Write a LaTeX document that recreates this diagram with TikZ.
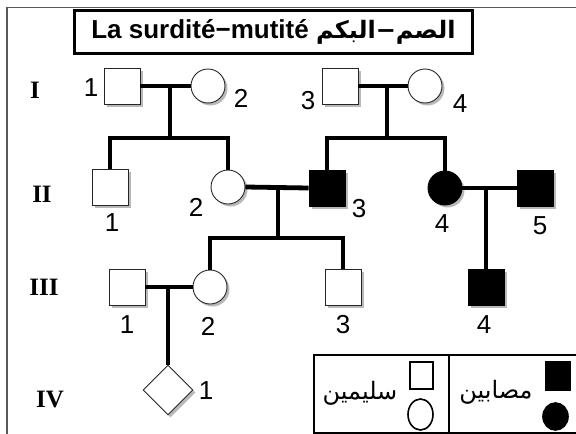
\documentclass[tikz,border=0pt]{standalone}
\usepackage{fontspec}
\setmainfont{Liberation Sans}
\newfontfamily\arabicfont[Script=Arabic]{DejaVu Sans}
\newfontfamily\romanfont{Liberation Serif}
\TeXXeTstate=1
\usetikzlibrary{shapes.geometric,shadows}

\tikzset{
  person/.style={draw=black!85, line width=0.9pt, fill=white, inner sep=0pt,
    drop shadow={shadow xshift=2.5pt, shadow yshift=-2.5pt, fill=black!50, opacity=0.55}},
  male/.style={person, rectangle, minimum size=36pt},
  female/.style={person, circle, minimum size=34pt},
  unknown/.style={person, diamond, minimum size=50pt},
  affected/.style={fill=black, draw=black},
  link/.style={line width=4.8pt, line join=miter},
  idlabel/.style={font=\fontsize{26}{26}\selectfont, inner sep=0pt},
  genlabel/.style={font=\romanfont\bfseries\fontsize{25}{25}\selectfont, inner sep=0pt},
  titlebox/.style={draw=black, line width=3pt, minimum width=398pt, minimum height=43pt, inner sep=0pt},
  keybox/.style={draw=black, line width=1.6pt, inner sep=0pt},
  keytext/.style={font=\arabicfont\fontsize{24}{24}\selectfont, inner sep=0pt},
  frame/.style={draw=black!65, line width=1.3pt}
}

\begin{document}
\begin{tikzpicture}[x=1pt, y=-1pt]
\useasboundingbox (0,0) rectangle (576,434);

% outer frame (top and left edges)
\draw[frame] (7,434) -- (7,7.5) -- (580,7.5);

% heading
\node[titlebox] (title) at (273.5,32) {%
  \fontsize{26}{26}\selectfont\bfseries La surdité−mutité
  {\arabicfont\bfseries\fontsize{24}{24}\selectfont\beginR الصم−البكم\endR}};

% generation numerals
\node[genlabel] (gI)   at (35,90)  {I};
\node[genlabel] (gII)  at (42,194) {II};
\node[genlabel] (gIII) at (44,287) {III};
\node[genlabel] (gIV)  at (50,399) {IV};

% generation I
\node[male]   (I1) at (122,86) {};
\node[female] (I2) at (208,86) {};
\node[male]   (I3) at (340,86) {};
\node[female] (I4) at (425,86) {};
\node[idlabel] (lI1) at (91,88)  {1};
\node[idlabel] (lI2) at (241,98) {2};
\node[idlabel] (lI3) at (308,101) {3};
\node[idlabel] (lI4) at (460,104) {4};

% generation II
\node[male]             (II1) at (110,187) {};
\node[female]           (II2) at (228,187) {};
\node[male, affected]   (II3) at (327,188) {};
\node[female, affected] (II4) at (445,188) {};
\node[male, affected]   (II5) at (535,188) {};
\node[idlabel] (lII1) at (112,223) {1};
\node[idlabel] (lII2) at (196,207) {2};
\node[idlabel] (lII3) at (359,209) {3};
\node[idlabel] (lII4) at (442,224) {4};
\node[idlabel] (lII5) at (540,226) {5};

% generation III
\node[male]           (III1) at (127,287) {};
\node[female]         (III2) at (210,287) {};
\node[male]           (III3) at (343,287) {};
\node[male, affected] (III4) at (486,287) {};
\node[idlabel] (lIII1) at (127,325) {1};
\node[idlabel] (lIII2) at (208,326) {2};
\node[idlabel] (lIII3) at (343,325) {3};
\node[idlabel] (lIII4) at (484,325) {4};

% generation IV
\node[unknown] (IV1) at (168,390) {};
\node[idlabel] (lIV1) at (206,391) {1};

% couple and sibship points
\coordinate (m1) at (170,86);
\coordinate (s1) at (170,138);
\coordinate (m2) at (387,86);
\coordinate (s2) at (387,138);
\coordinate (m3) at (278,188);
\coordinate (s3) at (278,238);
\coordinate (m4) at (486,188);
\coordinate (m5) at (168,288);

% couples
\draw[link] (I1.east) -- (I2.west);
\draw[link] (I3.east) -- (I4.west);
\draw[link] (II2.east) -- (II3.west);
\draw[link] (II4.east) -- (II5.west);
\draw[link] (III1.east) -- (III2.west);

% descent lines
\draw[link] (m1) -- (s1);
\draw[link] (II1.north) |- (s1) -| (II2.north);
\draw[link] (m2) -- (s2);
\draw[link] (II3.north) |- (s2) -| (II4.north);
\draw[link] (m3) -- (s3);
\draw[link] (III2.north) |- (s3) -| (III3.north);
\draw[link] (m4) -- (III4.north);
\draw[link] (m5) -- (IV1.north);

% key
\draw[keybox] (580,355) -- (314,355) -- (314,433) -- (580,433);
\draw[keybox] (449,355) -- (449,433);
\node[keybox, fill=white, rectangle, minimum width=23pt, minimum height=27pt] (kS) at (421.5,375.5) {};
\node[keybox, fill=white, ellipse, minimum width=25pt, minimum height=31pt] (kC) at (420.5,414.5) {};
\node[keybox, fill=black, rectangle, minimum width=24pt, minimum height=28pt] (kSa) at (558,376) {};
\node[keybox, fill=black, ellipse, minimum width=25pt, minimum height=27pt] (kCa) at (555.5,416.5) {};
\node[keytext] (kH) at (360,393) {\beginR سليمين\endR};
\node[keytext] (kA) at (496,392) {\beginR مصابين\endR};
\end{tikzpicture}
\end{document}
